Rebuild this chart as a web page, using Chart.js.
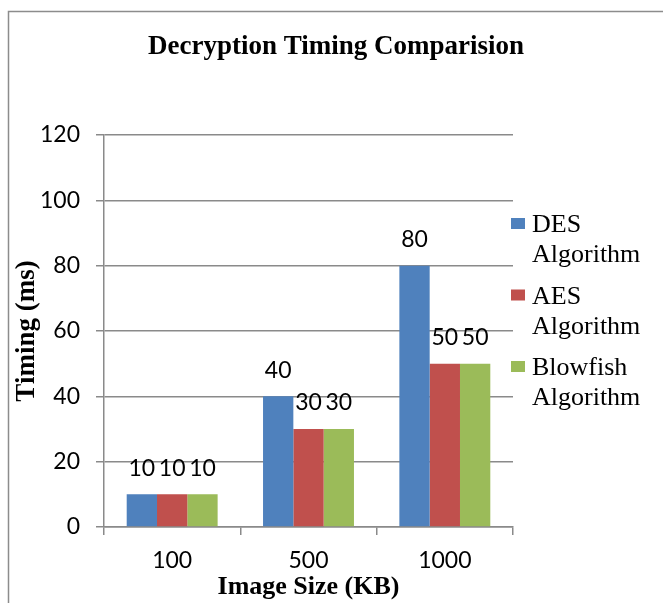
<!DOCTYPE html>
<html>
<head>
<meta charset="utf-8">
<title>Decryption Timing Comparision</title>
<script src="https://cdn.jsdelivr.net/npm/chart.js@4.4.1/dist/chart.umd.min.js"></script>
<style>
  html, body { margin: 0; padding: 0; background: #fff; overflow: hidden; }
  canvas { display: block; }
</style>
</head>
<body>
<canvas id="timingChart" width="663" height="603"></canvas>
<script>
// chart data
const imageSizes = ['100', '500', '1000'];
const desTimes = [10, 40, 80];
const aesTimes = [10, 30, 50];
const blowfishTimes = [10, 30, 50];
const seriesNames = [['DES', 'Algorithm'], ['AES', 'Algorithm'], ['Blowfish', 'Algorithm']];
const seriesColors = ['#4F81BD', '#C0504D', '#9BBB59'];
const yMin = 0, yMax = 120, yStep = 20;

const chartTitle = 'Decryption Timing Comparision';
const xTitle = 'Image Size (KB)';
const yTitle = 'Timing (ms)';

const serif = "'Liberation Serif', 'Times New Roman', serif";
const sans = "Lato, 'Liberation Sans', sans-serif";
const gridGray = '#8a8a8a';

// outer frame, title, value labels and the legend on the right
const decorPlugin = {
    id: 'decor',
    beforeDraw(chart) {
        const ctx = chart.ctx;
        ctx.save();
        ctx.strokeStyle = '#8c8c8c';
        ctx.lineWidth = 1.5;
        ctx.strokeRect(8.5, 11.5, 700, 700);
        ctx.restore();
    },
    afterDatasetsDraw(chart) {
        const ctx = chart.ctx;
        ctx.save();
        ctx.font = '23px ' + sans;
        ctx.fillStyle = '#000';
        ctx.textAlign = 'center';
        ctx.textBaseline = 'middle';
        chart.data.datasets.forEach((ds, i) => {
            chart.getDatasetMeta(i).data.forEach((bar, j) => {
                ctx.fillText(String(ds.data[j]), bar.x, bar.y - 26);
            });
        });
        ctx.restore();
    },
    afterDraw(chart) {
        const ctx = chart.ctx;
        const area = chart.chartArea;
        ctx.save();
        // title
        ctx.font = 'bold 27px ' + serif;
        ctx.fillStyle = '#000';
        ctx.textAlign = 'center';
        ctx.textBaseline = 'middle';
        ctx.fillText(chartTitle, 336, 47);

        // legend
        ctx.font = '26px ' + serif;
        ctx.textAlign = 'left';
        ctx.textBaseline = 'alphabetic';
        const legendX = area.right - 2;
        let baseY = area.top + 97;
        chart.data.datasets.forEach((ds, i) => {
            const lines = ds.label;
            ctx.fillStyle = ds.backgroundColor;
            ctx.fillRect(legendX, baseY - 14, 14, 11);
            ctx.fillStyle = '#000';
            lines.forEach((line, k) => {
                ctx.fillText(line, legendX + 21, baseY + k * 30);
            });
            baseY += 71.5;
        });
        ctx.restore();
    }
};

new Chart(document.getElementById('timingChart').getContext('2d'), {
    type: 'bar',
    data: {
        labels: imageSizes,
        datasets: [
            { label: seriesNames[0], data: desTimes, backgroundColor: seriesColors[0] },
            { label: seriesNames[1], data: aesTimes, backgroundColor: seriesColors[1] },
            { label: seriesNames[2], data: blowfishTimes, backgroundColor: seriesColors[2] }
        ]
    },
    options: {
        responsive: false,
        animation: false,
        layout: { padding: { top: 135, right: 150, left: 0, bottom: 0 } },
        datasets: {
            bar: { categoryPercentage: 0.667, barPercentage: 1.0 }
        },
        plugins: {
            legend: { display: false },
            title: { display: false },
            tooltip: { enabled: false }
        },
        scales: {
            x: {
                afterFit: scale => { scale.height = 76; },
                grid: {
                    offset: true,
                    drawOnChartArea: false,
                    drawTicks: true,
                    tickLength: 8,
                    color: gridGray,
                    lineWidth: 1.5
                },
                border: { display: true, color: gridGray, width: 1.5 },
                ticks: {
                    padding: 12,
                    color: '#000',
                    font: { family: sans, size: 23 }
                },
                title: {
                    display: true,
                    text: xTitle,
                    color: '#000',
                    font: { family: serif, size: 26, weight: 'bold' },
                    padding: { top: 0, bottom: 0 }
                }
            },
            y: {
                min: yMin,
                max: yMax,
                afterFit: scale => { scale.width = 104; },
                grid: {
                    drawTicks: true,
                    tickLength: 8,
                    color: gridGray,
                    lineWidth: 1.5
                },
                border: { display: true, color: gridGray, width: 1.5 },
                ticks: {
                    stepSize: yStep,
                    padding: 16,
                    color: '#000',
                    font: { family: sans, size: 23 }
                },
                title: {
                    display: true,
                    text: yTitle,
                    color: '#000',
                    font: { family: serif, size: 27, weight: 'bold' },
                    padding: { top: 11, bottom: 0 }
                }
            }
        }
    },
    plugins: [decorPlugin]
});
</script>
</body>
</html>
